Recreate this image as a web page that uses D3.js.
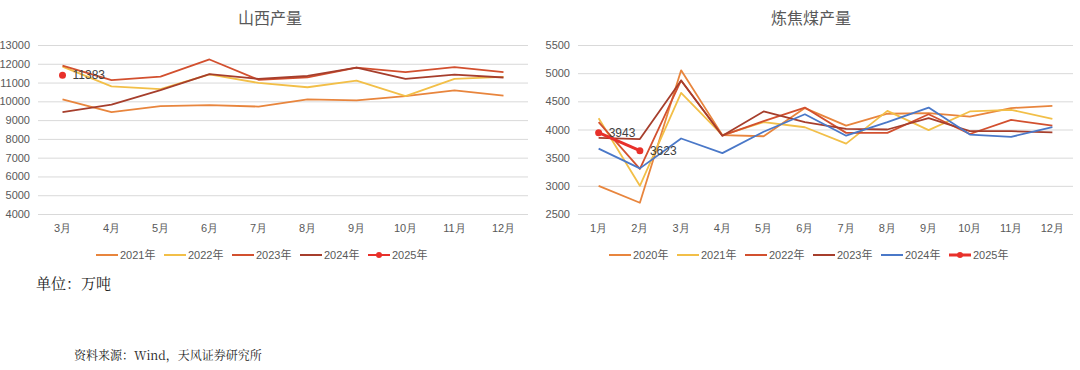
<!DOCTYPE html>
<html>
<head>
<meta charset="utf-8">
<script src="https://cdnjs.cloudflare.com/ajax/libs/d3/7.8.5/d3.min.js"></script>
<style>
  body { margin: 0; background: #fff; }
  svg { display: block; font-family: Arial, "Liberation Sans", "Noto Sans CJK SC", sans-serif; }
</style>
</head>
<body>
<svg id="chart" width="1080" height="370"></svg>
<script>
// ---- data ----
var sxMonths = ['3月', '4月', '5月', '6月', '7月', '8月', '9月', '10月', '11月', '12月'];
var sx2021 = [10100, 9420, 9750, 9800, 9720, 10100, 10050, 10280, 10580, 10300];
var sx2022 = [11850, 10800, 10650, 11430, 10980, 10750, 11100, 10280, 11200, 11300];
var sx2023 = [11900, 11130, 11320, 12230, 11150, 11280, 11800, 11550, 11820, 11560];
var sx2024 = [9420, 9820, 10600, 11450, 11200, 11350, 11800, 11200, 11420, 11270];
var sx2025 = [11383];
var sxTicks = [4000, 5000, 6000, 7000, 8000, 9000, 10000, 11000, 12000, 13000];

var cokMonths = ['1月', '2月', '3月', '4月', '5月', '6月', '7月', '8月', '9月', '10月', '11月', '12月'];
var cok2020 = [3000, 2700, 5050, 3900, 3880, 4380, 4070, 4280, 4290, 4230, 4380, 4420];
var cok2021 = [4200, 3000, 4650, 3900, 4130, 4040, 3750, 4330, 3990, 4320, 4350, 4190];
var cok2022 = [4130, 3300, 4870, 3890, 4150, 4390, 3940, 3940, 4270, 3920, 4170, 4070];
var cok2023 = [3850, 3830, 4870, 3890, 4320, 4130, 4010, 4000, 4200, 3970, 3970, 3950];
var cok2024 = [3660, 3310, 3840, 3580, 3960, 4270, 3890, 4130, 4390, 3910, 3870, 4040];
var cok2025 = [3943, 3623];
var cokTicks = [2500, 3000, 3500, 4000, 4500, 5000, 5500];

var svg = d3.select('#chart');
var textColor = '#595959';

function drawPanel(opt) {
  var g = svg.append('g');
  var x = d3.scaleBand().domain(opt.months).range([opt.x0, opt.x1]);
  var y = d3.scaleLinear().domain(opt.domain).range([opt.y1, opt.y0]);
  var cx = function(i) { return x(opt.months[i]) + x.bandwidth() / 2; };

  // title
  g.append('text')
    .attr('x', opt.titleX).attr('y', 24)
    .attr('text-anchor', 'middle')
    .attr('font-size', 16).attr('fill', textColor)
    .text(opt.title);

  // grid + y labels
  var yAxis = d3.axisLeft(y).tickValues(opt.ticks).tickFormat(d3.format('d'))
    .tickSize(-(opt.x1 - opt.x0)).tickPadding(8);
  var ya = g.append('g').attr('transform', 'translate(' + opt.x0 + ',0)').call(yAxis);
  ya.select('.domain').remove();
  ya.selectAll('.tick line').attr('stroke', '#d9d9d9').attr('stroke-width', 1);
  ya.selectAll('.tick text').attr('fill', textColor).attr('font-size', 11);

  // x labels
  var xAxis = d3.axisBottom(x).tickSize(0).tickPadding(10);
  var xa = g.append('g').attr('transform', 'translate(0,' + opt.y1 + ')').call(xAxis);
  xa.select('.domain').remove();
  xa.selectAll('.tick text').attr('fill', textColor).attr('font-size', 11);

  var line = d3.line().x(function(d, i) { return cx(i); }).y(function(d) { return y(d); });

  opt.series.forEach(function(s) {
    g.append('path')
      .datum(s.values)
      .attr('fill', 'none')
      .attr('stroke', s.color)
      .attr('stroke-width', s.width || 1.8)
      .attr('stroke-linejoin', 'round')
      .attr('d', line);
    if (s.marker) {
      g.selectAll(null).data(s.values).enter().append('circle')
        .attr('cx', function(d, i) { return cx(i); })
        .attr('cy', function(d) { return y(d); })
        .attr('r', 3.5)
        .attr('fill', s.color);
      g.selectAll(null).data(s.values).enter().append('text')
        .attr('x', function(d, i) { return cx(i) + 10; })
        .attr('y', function(d) { return y(d) + 4; })
        .attr('font-size', 12).attr('fill', '#404040')
        .text(function(d) { return d; });
    }
  });

  // legend
  var lg = g.append('g').attr('transform', 'translate(' + opt.legendX + ',255)');
  var lx = 0;
  opt.series.forEach(function(s) {
    var item = lg.append('g').attr('transform', 'translate(' + lx + ',0)');
    item.append('line').attr('x1', 0).attr('x2', 22).attr('y1', 0).attr('y2', 0)
      .attr('stroke', s.color).attr('stroke-width', s.width || 2);
    if (s.marker) item.append('circle').attr('cx', 11).attr('cy', 0).attr('r', 3).attr('fill', s.color);
    item.append('text').attr('x', 24).attr('y', 4)
      .attr('font-size', 11).attr('fill', textColor).text(s.name);
    lx += opt.legendStep;
  });
}

drawPanel({
  title: '山西产量', titleX: 270,
  months: sxMonths, domain: [4000, 13000], ticks: sxTicks,
  x0: 38, x1: 528, y0: 45, y1: 214,
  legendX: 96, legendStep: 68,
  series: [
    { name: '2021年', values: sx2021, color: '#E8853D' },
    { name: '2022年', values: sx2022, color: '#F2BF48' },
    { name: '2023年', values: sx2023, color: '#D2502F' },
    { name: '2024年', values: sx2024, color: '#A63E2C' },
    { name: '2025年', values: sx2025, color: '#E8302A', marker: true }
  ]
});

drawPanel({
  title: '炼焦煤产量', titleX: 811,
  months: cokMonths, domain: [2500, 5500], ticks: cokTicks,
  x0: 578, x1: 1073, y0: 45, y1: 214,
  legendX: 609, legendStep: 68,
  series: [
    { name: '2020年', values: cok2020, color: '#E8853D' },
    { name: '2021年', values: cok2021, color: '#F2BF48' },
    { name: '2022年', values: cok2022, color: '#D2502F' },
    { name: '2023年', values: cok2023, color: '#A63E2C' },
    { name: '2024年', values: cok2024, color: '#4A78C8' },
    { name: '2025年', values: cok2025, color: '#E8302A', marker: true, width: 3 }
  ]
});

// footer notes
svg.append('text').attr('x', 36).attr('y', 289)
  .attr('font-size', 15).attr('fill', '#222')
  .attr('font-family', '"Noto Serif CJK SC", "Noto Sans CJK SC", serif')
  .text('单位：万吨');
svg.append('text').attr('x', 74).attr('y', 360)
  .attr('font-size', 12).attr('fill', '#222')
  .attr('font-family', '"Noto Serif CJK SC", "DejaVu Serif", "Noto Sans CJK SC", serif')
  .text('资料来源：Wind，天风证券研究所');
</script>
</body>
</html>
